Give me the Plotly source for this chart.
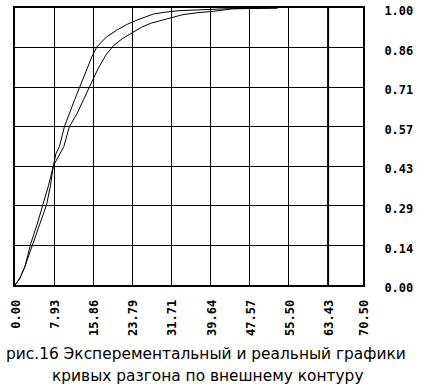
import plotly.graph_objects as go

# Curve A (experimental)
xA = [0, 1.0, 2.0, 3.2, 4.5, 5.7, 6.8, 7.76, 8.5, 9.1, 9.9, 11.0, 12.6, 13.9, 15.1, 16.8, 18.4, 20.0, 21.8, 23.8, 25.6, 27.5, 29.5, 31.4, 34.0, 37.0, 40.2, 44.0, 53.2]
yA = [0, 0.025, 0.066, 0.15, 0.22, 0.29, 0.36, 0.43, 0.455, 0.475, 0.50, 0.571, 0.62, 0.67, 0.714, 0.78, 0.83, 0.865, 0.89, 0.912, 0.93, 0.945, 0.955, 0.965, 0.976, 0.983, 0.988, 0.997, 1.0]

# Curve B (real)
xB = [0, 1.0, 2.0, 3.6, 5.0, 6.4, 7.2, 7.76, 8.3, 9.0, 10.0, 11.1, 12.1, 13.1, 14.5, 15.6, 16.6, 18.5, 20.6, 22.6, 24.5, 26.2, 28.0, 30.0, 33.0, 36.8, 41.5, 44.0, 53.2]
yB = [0, 0.025, 0.066, 0.15, 0.22, 0.29, 0.36, 0.43, 0.475, 0.50, 0.571, 0.625, 0.67, 0.714, 0.78, 0.825, 0.86, 0.895, 0.92, 0.94, 0.955, 0.967, 0.978, 0.984, 0.99, 0.993, 0.996, 0.998, 1.0]

x_ticks = [0.00, 7.93, 15.86, 23.79, 31.71, 39.64, 47.57, 55.50, 63.43, 70.50]
x_labels = ["0.00", "7.93", "15.86", "23.79", "31.71", "39.64", "47.57", "55.50", "63.43", "70.50"]
y_ticks = [0, 1/7, 2/7, 3/7, 4/7, 5/7, 6/7, 1.0]
y_labels = ["0.00", "0.14", "0.29", "0.43", "0.57", "0.71", "0.86", "1.00"]

caption1 = "рис.16 Эксперементальный и реальный графики"
caption2 = "кривых разгона по внешнему контуру"

tick_font = dict(family="DejaVu Sans Mono", size=12, color="black", weight="bold")
cap_font = dict(family="DejaVu Sans", size=15.4, color="black")

fig = go.Figure()
for xs, ys in ((xA, yA), (xB, yB)):
    fig.add_trace(go.Scatter(x=xs, y=ys, mode="lines",
                             line=dict(color="black", width=1),
                             showlegend=False, hoverinfo="skip"))

fig.update_layout(
    width=428, height=386,
    margin=dict(l=15, r=65, t=8, b=101),
    paper_bgcolor="white", plot_bgcolor="white",
    xaxis=dict(range=[0, 70.5], tickvals=x_ticks, ticktext=x_labels,
               tickangle=-90, tickfont=tick_font, ticks="", ticklabelstandoff=8,
               ticklabelshift=1,
               showgrid=True, gridcolor="black", gridwidth=1, zeroline=False,
               showline=True, linecolor="black", linewidth=2, mirror=True,
               automargin=False),
    yaxis=dict(range=[0, 1], tickvals=y_ticks, ticktext=y_labels, side="right",
               tickfont=tick_font, ticks="", ticklabelstandoff=17,
               ticklabelshift=3,
               showgrid=True, gridcolor="black", gridwidth=1, zeroline=False,
               showline=True, linecolor="black", linewidth=2, mirror=True,
               automargin=False),
    shapes=[dict(type="line", xref="x", yref="paper", x0=63.43, x1=63.43, y0=0, y1=1,
                 line=dict(color="black", width=2))],
    annotations=[
        dict(text=caption1, xref="paper", yref="paper", x=0.550, y=-0.249,
             xanchor="center", yanchor="middle", showarrow=False, font=cap_font),
        dict(text=caption2, xref="paper", yref="paper", x=0.555, y=-0.329,
             xanchor="center", yanchor="middle", showarrow=False, font=cap_font),
    ],
)

fig.write_html("out.html", config={"displayModeBar": False},
               post_script="document.body.style.margin='0';document.body.style.overflow='hidden';")
